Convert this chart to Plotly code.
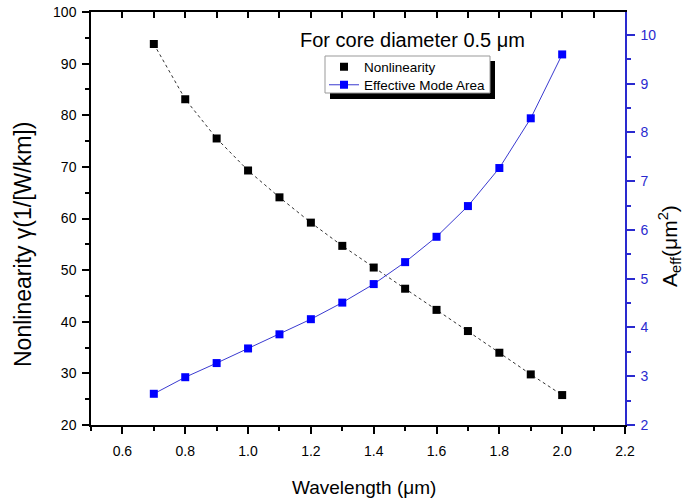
import plotly.graph_objects as go

wavelength = [0.7, 0.8, 0.9, 1.0, 1.1, 1.2, 1.3, 1.4, 1.5, 1.6, 1.7, 1.8, 1.9, 2.0]
nonlinearity = [93.8, 83.1, 75.5, 69.3, 64.1, 59.2, 54.7, 50.5, 46.4, 42.3, 38.2, 34.0, 29.8, 25.8]
eff_area = [2.64, 2.98, 3.27, 3.57, 3.86, 4.17, 4.51, 4.89, 5.34, 5.86, 6.49, 7.27, 8.29, 9.60]

x_title = "Wavelength (μm)"
y_title = "Nonlinearity γ(1/[W/km])"
y2_title = "A<sub>eff</sub>(μm<sup>2</sup>)"
note = "For core diameter 0.5 μm"

FONT = "Liberation Sans, Arial, sans-serif"
BLUE_AX = "#2a2acf"

fig = go.Figure()

fig.add_trace(go.Scatter(x=wavelength, y=nonlinearity, mode="lines",
                         line=dict(color="#333333", width=1, dash="dot"),
                         showlegend=False, hoverinfo="skip"))
fig.add_trace(go.Scatter(x=wavelength, y=nonlinearity, mode="markers", name="Nonlinearity",
                         legend="legend",
                         marker=dict(symbol="square", size=8, color="black")))
fig.add_trace(go.Scatter(x=wavelength, y=eff_area, mode="lines+markers", name="Effective Mode Area",
                         yaxis="y2", legend="legend2",
                         line=dict(color="#3a3ad0", width=1),
                         marker=dict(symbol="square", size=8, color="#0000ff")))
fig.add_trace(go.Scatter(x=[wavelength[0]], y=[nonlinearity[0]], xaxis="x2", mode="markers",
                         marker=dict(opacity=0), showlegend=False, hoverinfo="skip"))

W, H = 686, 503
L, T = 91, 12
PW, PH = 534, 413
R = W - L - PW
B = H - T - PH

def px2paper_x(px):
    return (px - L) / PW

def px2paper_y(py):
    return (T + PH - py) / PH

leg_common = dict(xanchor="left", yanchor="middle", bgcolor="rgba(0,0,0,0)",
                  borderwidth=0, font=dict(size=13.5, family=FONT), itemwidth=30)

fig.update_layout(
    width=W, height=H,
    margin=dict(l=L, r=R, t=T, b=B, autoexpand=False),
    plot_bgcolor="white", paper_bgcolor="white",
    font=dict(family=FONT, size=14, color="black"),
    xaxis=dict(range=[0.5, 2.2], dtick=0.2, tick0=0.6, tickformat=".1f",
               showline=True, linecolor="black", linewidth=1.5,
               ticks="outside", ticklen=7, tickwidth=1.5, tickcolor="black",
               minor=dict(dtick=0.1, ticks="outside", ticklen=4, tickcolor="black"),
               ticklabelstandoff=5,
               showgrid=False, zeroline=False, automargin=False),
    xaxis2=dict(range=[0.5, 2.2], overlaying="x", side="top", anchor="y",
                showline=True, linecolor="black", linewidth=1.5,
                ticks="inside", ticklen=6, tickwidth=1.5, tickcolor="black",
                dtick=0.1, tick0=0.5, showticklabels=False,
                showgrid=False, zeroline=False),
    yaxis=dict(range=[20, 100], dtick=10,
               showline=True, linecolor="black", linewidth=1.5,
               ticks="outside", ticklen=7, tickwidth=1.5, tickcolor="black",
               minor=dict(dtick=5, ticks="outside", ticklen=4, tickcolor="black"),
               ticklabelstandoff=3,
               showgrid=False, zeroline=False, automargin=False),
    yaxis2=dict(range=[2, 10.47], dtick=1, overlaying="y", side="right", anchor="x",
                showline=True, linecolor=BLUE_AX, linewidth=1.5,
                ticks="outside", ticklen=8, tickwidth=1.5, tickcolor=BLUE_AX,
                minor=dict(dtick=0.5, ticks="outside", ticklen=4, tickcolor=BLUE_AX),
                tickfont=dict(color=BLUE_AX, size=14), ticklabelstandoff=3,
                showgrid=False, zeroline=False, automargin=False),
    legend=dict(x=px2paper_x(324), y=px2paper_y(67), **leg_common),
    legend2=dict(x=px2paper_x(324), y=px2paper_y(85), **leg_common),
    showlegend=True,
)

# legend frame with drop shadow (Origin style)
fig.add_shape(type="rect", xref="paper", yref="paper",
              x0=px2paper_x(330), x1=px2paper_x(495), y0=px2paper_y(99), y1=px2paper_y(61),
              fillcolor="black", line=dict(width=0), layer="above")
fig.add_shape(type="rect", xref="paper", yref="paper",
              x0=px2paper_x(325), x1=px2paper_x(490), y0=px2paper_y(93), y1=px2paper_y(56),
              fillcolor="white", line=dict(width=1, color="#999999"), layer="above")

fig.add_annotation(text=note, xref="paper", yref="paper",
                   x=px2paper_x(412), y=px2paper_y(40), showarrow=False,
                   xanchor="center", yanchor="middle",
                   font=dict(size=20, family=FONT, color="black"))

# axis titles (placed like the reference)
fig.add_annotation(text=x_title, xref="paper", yref="paper",
                   x=px2paper_x(364), y=px2paper_y(487), showarrow=False,
                   xanchor="center", yanchor="middle",
                   font=dict(size=19, family=FONT, color="black"))
fig.add_annotation(text=y_title, xref="paper", yref="paper", textangle=-90,
                   x=px2paper_x(23), y=px2paper_y(245), showarrow=False,
                   xanchor="center", yanchor="middle",
                   font=dict(size=23, family=FONT, color="black"))
fig.add_annotation(text=y2_title, xref="paper", yref="paper", textangle=-90,
                   x=px2paper_x(670), y=px2paper_y(246), showarrow=False,
                   xanchor="center", yanchor="middle",
                   font=dict(size=21, family=FONT, color="black"))

fig.write_html("out.html", config={"displayModeBar": False},
               post_script="document.body.style.margin='0';")
